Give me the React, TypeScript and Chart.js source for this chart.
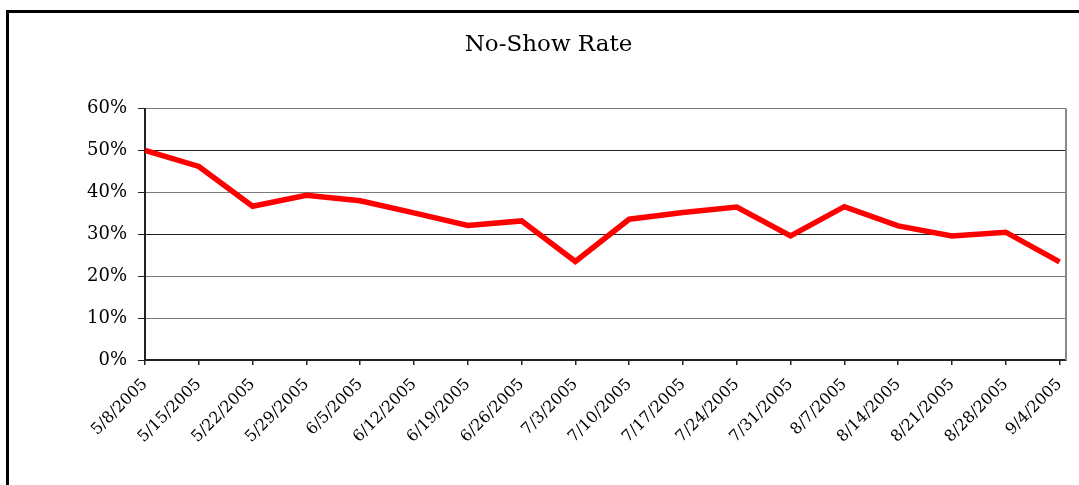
import React, { useEffect, useRef } from "react";
import { Chart, registerables } from "chart.js";

Chart.register(...registerables);

const weekLabels: string[] = [
  "5/8/2005", "5/15/2005", "5/22/2005", "5/29/2005", "6/5/2005", "6/12/2005",
  "6/19/2005", "6/26/2005", "7/3/2005", "7/10/2005", "7/17/2005", "7/24/2005",
  "7/31/2005", "8/7/2005", "8/14/2005", "8/21/2005", "8/28/2005", "9/4/2005",
];

const noShowRate: number[] = [
  50.0, 46.2, 36.7, 39.3, 38.0, 35.1, 32.1, 33.2, 23.5,
  33.6, 35.2, 36.5, 29.6, 36.6, 32.0, 29.6, 30.5, 23.4,
];

const yTicks: number[] = [0, 10, 20, 30, 40, 50, 60];

const chartTitle = "No-Show Rate";

const frameRight = {
  id: "frameRight",
  afterDraw(chart: any) {
    const { ctx, chartArea } = chart;
    ctx.save();
    ctx.strokeStyle = "#888888";
    ctx.lineWidth = 2;
    ctx.beginPath();
    ctx.moveTo(chartArea.right, chartArea.top);
    ctx.lineTo(chartArea.right, chartArea.bottom);
    ctx.stroke();
    ctx.restore();
  },
};

export default function App() {
  const ref = useRef<HTMLCanvasElement | null>(null);

  useEffect(() => {
    if (!ref.current) return;
    const serif = "'DejaVu Serif', 'Liberation Serif', serif";
    const chart = new Chart(ref.current, {
      type: "line",
      data: {
        datasets: [
          {
            label: chartTitle,
            data: noShowRate.map((v, i) => ({ x: i, y: v })),
            borderColor: "#ff0000",
            borderWidth: 5.5,
            pointRadius: 0,
            tension: 0,
            fill: false,
          },
        ],
      },
      options: {
        animation: false,
        responsive: false,
        maintainAspectRatio: false,
        layout: { padding: { left: 22, right: 13, top: 0, bottom: 0 } },
        plugins: {
          legend: { display: false },
          tooltip: { enabled: false },
          title: {
            display: true,
            text: chartTitle,
            color: "#000",
            font: { family: serif, size: 23, weight: "normal" },
            padding: { top: 18, bottom: 50 },
          },
        },
        scales: {
          x: {
            type: "linear",
            min: 0,
            max: 17.12,
            afterBuildTicks: (scale: any) => {
              scale.ticks = weekLabels.map((_, i) => ({ value: i }));
            },
            afterFit: (scale: any) => {
              scale.height = 125;
              scale.paddingLeft = 0;
              scale.paddingRight = 0;
            },
            ticks: {
              callback: (v: any) => weekLabels[v as number] ?? "",
              maxRotation: 45,
              minRotation: 45,
              autoSkip: false,
              includeBounds: false,
              padding: 10,
              color: "#000",
              font: { family: serif, size: 16 },
            },
            grid: {
              drawOnChartArea: false,
              drawTicks: true,
              tickLength: 5,
              tickColor: "#222",
              lineWidth: 1.5,
            },
            border: { color: "#222", width: 2 },
          },
          y: {
            min: 0,
            max: 60,
            afterBuildTicks: (scale: any) => {
              scale.ticks = yTicks.map((v) => ({ value: v }));
            },
            afterFit: (scale: any) => {
              scale.width = 114;
            },
            ticks: {
              callback: (v: any) => `${v}%`,
              padding: 11,
              color: "#000",
              font: { family: serif, size: 18 },
            },
            grid: {
              drawTicks: true,
              tickLength: 7,
              tickColor: "#222",
              lineWidth: 1,
              color: (ctx: any) => {
                const v = ctx.tick ? ctx.tick.value : 0;
                return v === 50 || v === 30 || v === 0 ? "#222222" : "#7a7a7a";
              },
            },
            border: { color: "#222", width: 2 },
          },
        },
      },
      plugins: [frameRight],
    });
    return () => chart.destroy();
  }, []);

  return (
    <div style={{ position: "fixed", left: 0, top: 0, width: 1079, height: 485, overflow: "hidden", background: "#fff" }}>
      <div
        style={{
          position: "absolute",
          left: 6,
          top: 10,
          width: 1120,
          height: 520,
          border: "3px solid #000",
          boxSizing: "border-box",
        }}
      >
        <canvas ref={ref} width={1070} height={472} style={{ position: "absolute", left: 0, top: 0, width: 1070, height: 472 }} />
      </div>
    </div>
  );
}
